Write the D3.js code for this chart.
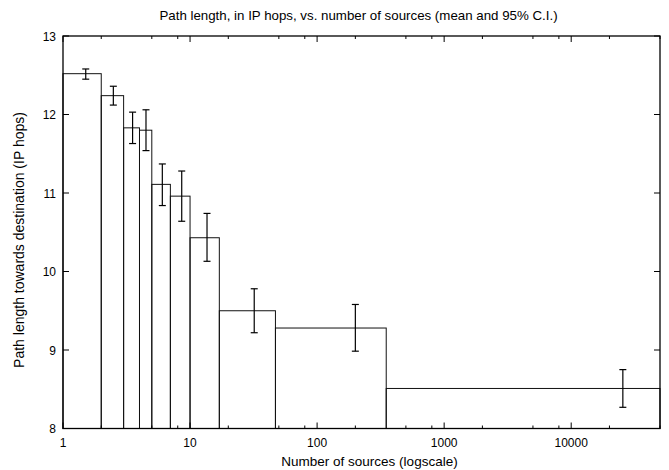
<!DOCTYPE html>
<html><head><meta charset="utf-8">
<script src="https://cdn.jsdelivr.net/npm/d3@7"></script>
<style>body{margin:0;background:#fff}svg{display:block}text{font-family:"Liberation Sans",Arial,sans-serif;fill:#000}</style>
</head><body>
<svg id="c" width="669" height="470"></svg>
<script>
const binEdges = [1, 2, 3, 4, 5, 7, 10, 17, 47, 350, 50000];
const means = [12.52, 12.24, 11.83, 11.80, 11.11, 10.96, 10.43, 9.50, 9.28, 8.51];
const ciX = [1.51, 2.49, 3.53, 4.5, 6.05, 8.6, 13.6, 32, 200, 25500];
const ciLow = [12.45, 12.12, 11.63, 11.54, 10.84, 10.64, 10.13, 9.22, 8.985, 8.27];
const ciHigh = [12.58, 12.36, 12.03, 12.06, 11.37, 11.28, 10.74, 9.78, 9.58, 8.75];
const xMajor = [1, 10, 100, 1000, 10000];
const xMinorMult = [2, 5, 8];
const yTicks = [8, 9, 10, 11, 12, 13];
const titleText = "Path length, in IP hops, vs. number of sources (mean and 95% C.I.)";
const xLabel = "Number of sources (logscale)";
const yLabel = "Path length towards destination (IP hops)";

const svg = d3.select("#c");
const L = 63, R = 660, T = 36, B = 428.5;
const x = d3.scaleLog().domain([1, 50000]).range([L, R]);
const y = d3.scaleLinear().domain([8, 13]).range([B, T]);

// bars
const bars = means.map((m, i) => ({x0: binEdges[i], x1: binEdges[i+1], v: m}));
svg.append("g").selectAll("rect").data(bars).join("rect")
  .attr("x", d => x(d.x0)).attr("width", d => x(d.x1) - x(d.x0))
  .attr("y", d => y(d.v)).attr("height", d => B - y(d.v))
  .attr("fill", "none").attr("stroke", "#111").attr("stroke-width", 1);

// error bars
const eb = svg.append("g").attr("stroke", "#000").attr("stroke-width", 1.2);
ciX.forEach((cx, i) => {
  const px = x(cx);
  eb.append("line").attr("x1", px).attr("x2", px).attr("y1", y(ciLow[i])).attr("y2", y(ciHigh[i]));
  eb.append("line").attr("x1", px - 3.5).attr("x2", px + 3.5).attr("y1", y(ciLow[i])).attr("y2", y(ciLow[i]));
  eb.append("line").attr("x1", px - 3.5).attr("x2", px + 3.5).attr("y1", y(ciHigh[i])).attr("y2", y(ciHigh[i]));
});

// ticks
const minor = [];
xMajor.forEach(m => xMinorMult.forEach(k => { if (m * k <= 50000) minor.push(m * k); }));
const axG = svg.append("g").attr("stroke", "#000").attr("stroke-width", 1);
minor.forEach(v => {
  axG.append("line").attr("x1", x(v)).attr("x2", x(v)).attr("y1", B).attr("y2", B - 3);
  axG.append("line").attr("x1", x(v)).attr("x2", x(v)).attr("y1", T).attr("y2", T + 3);
});
xMajor.forEach(v => {
  axG.append("line").attr("x1", x(v)).attr("x2", x(v)).attr("y1", B).attr("y2", B - 6);
  axG.append("line").attr("x1", x(v)).attr("x2", x(v)).attr("y1", T).attr("y2", T + 6);
});
yTicks.forEach(v => {
  axG.append("line").attr("x1", L).attr("x2", L + 6).attr("y1", y(v)).attr("y2", y(v));
  axG.append("line").attr("x1", R).attr("x2", R - 6).attr("y1", y(v)).attr("y2", y(v));
});

// frame
svg.append("rect").attr("x", L).attr("y", T).attr("width", R - L).attr("height", B - T)
  .attr("fill", "none").attr("stroke", "#000").attr("stroke-width", 1.3);

// tick labels
svg.append("g").selectAll("text").data(xMajor).join("text")
  .attr("x", d => x(d)).attr("y", B + 18).attr("text-anchor", "middle")
  .attr("font-size", 12).text(d => d);
svg.append("g").selectAll("text").data(yTicks).join("text")
  .attr("x", L - 7).attr("y", d => y(d) + 4.5).attr("text-anchor", "end")
  .attr("font-size", 12).text(d => d);

// titles
svg.append("text").attr("x", (L + R) / 2 - 3).attr("y", 20).attr("text-anchor", "middle")
  .attr("font-size", 13.3).text(titleText);
svg.append("text").attr("x", (L + R) / 2 + 8).attr("y", 466).attr("text-anchor", "middle")
  .attr("font-size", 13.5).text(xLabel);
svg.append("text").attr("transform", `translate(24,240) rotate(-90)`)
  .attr("text-anchor", "middle").attr("font-size", 14).text(yLabel);
</script>
</body></html>
